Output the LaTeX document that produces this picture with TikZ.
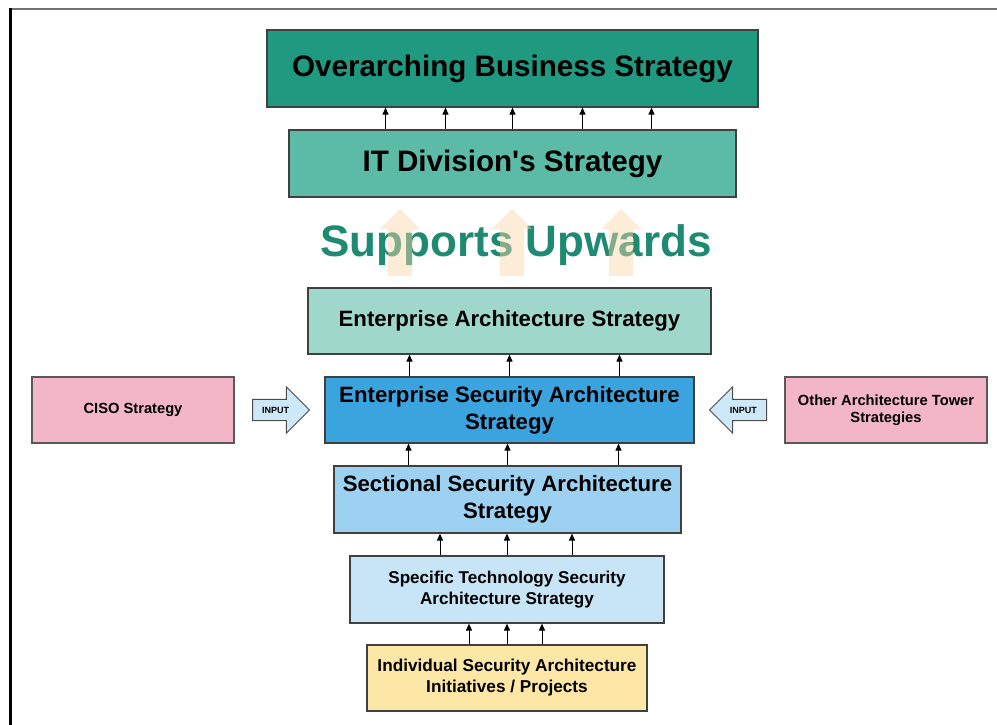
\documentclass[tikz,border=0pt]{standalone}
\usepackage{fontspec}
\setmainfont{Liberation Sans}
\usetikzlibrary{arrows.meta,shapes.arrows}

\definecolor{bizgreen}{HTML}{1F9A80}
\definecolor{itgreen}{HTML}{5CBBA6}
\definecolor{upgreen}{HTML}{1E8A72}
\definecolor{eagreen}{HTML}{9FD8CA}
\definecolor{esablue}{HTML}{3BA4DF}
\definecolor{secblue}{HTML}{9CD1F1}
\definecolor{techblue}{HTML}{C7E5F7}
\definecolor{projyellow}{HTML}{FDE7A6}
\definecolor{towerpink}{HTML}{F2B6C8}
\definecolor{inputblue}{HTML}{CDE8F8}
\definecolor{peach}{HTML}{FBD7A8}

\tikzset{
  strat/.style={draw=black!75, line width=1.2pt, inner sep=0pt, align=center},
  uparrow/.style={-{Triangle[length=7pt,width=6pt]}, line width=1pt},
  inputarrow/.style={single arrow, draw=black!70, line width=1pt, fill=inputblue,
    minimum height=57pt, inner xsep=4pt, inner ysep=7pt,
    single arrow head extend=12.5pt, font=\bfseries\fontsize{9}{10}\selectfont},
  fadearrow/.style={single arrow, rotate=90, fill=peach, fill opacity=0.45,
    minimum height=67pt, inner sep=12pt, single arrow head extend=8pt}
}

\begin{document}
\begin{tikzpicture}[x=1pt,y=-1pt]
  \useasboundingbox (0,0) rectangle (997,725);

  % frame
  \draw[line width=2.5pt, black!55] (10,9) -- (997,9);
  \draw[line width=3pt] (10,8) -- (10,725);

  \node[strat, fill=bizgreen, minimum width=491pt, minimum height=77pt,
    font=\bfseries\fontsize{29.6}{34}\selectfont] (business) at (512.5,68.5)
    {Overarching Business Strategy};
  \node[strat, fill=itgreen, minimum width=447pt, minimum height=67pt,
    font=\bfseries\fontsize{29.6}{34}\selectfont] (itdiv) at (512.5,163.5)
    {IT Division\textquotesingle s Strategy};

  \node[font=\bfseries\fontsize{44}{50}\selectfont, text=upgreen] (supports) at (516,245)
    {Supports Upwards};
  \node[fadearrow, anchor=tail] (fadeleft) at (400,276) {};
  \node[fadearrow, anchor=tail] (fademid) at (512,276) {};
  \node[fadearrow, anchor=tail] (faderight) at (621,276) {};

  \node[strat, fill=eagreen, minimum width=403pt, minimum height=66pt,
    font=\bfseries\fontsize{22.2}{27}\selectfont] (entarch) at (509.5,321)
    {Enterprise Architecture Strategy};
  \node[strat, fill=esablue, minimum width=369pt, minimum height=66pt,
    font=\bfseries\fontsize{22.2}{27}\selectfont] (entsec) at (509.5,410)
    {Enterprise Security Architecture\\Strategy};
  \node[strat, fill=secblue, minimum width=347pt, minimum height=67pt,
    font=\bfseries\fontsize{22.2}{27}\selectfont] (sectional) at (507.5,499.5)
    {Sectional Security Architecture\\Strategy};
  \node[strat, fill=techblue, minimum width=314pt, minimum height=67pt,
    font=\bfseries\fontsize{17.1}{21}\selectfont] (techsec) at (507,589.5)
    {Specific Technology Security\\Architecture Strategy};
  \node[strat, fill=projyellow, minimum width=280pt, minimum height=66pt,
    font=\bfseries\fontsize{17.2}{21}\selectfont] (projects) at (507,678)
    {Individual Security Architecture\\Initiatives / Projects};

  \node[strat, draw=black!65, fill=towerpink, minimum width=202pt, minimum height=66pt,
    font=\bfseries\fontsize{14.7}{17.5}\selectfont] (ciso) at (133,410)
    {CISO Strategy};
  \node[strat, draw=black!65, fill=towerpink, minimum width=202pt, minimum height=66pt,
    font=\bfseries\fontsize{14.7}{17.5}\selectfont] (towers) at (886,410)
    {Other Architecture Tower\\Strategies};

  \node[inputarrow, anchor=tail] (cisoinput) at (252,410) {INPUT};
  \node[inputarrow, shape border rotate=180, anchor=tail] (towerinput) at (767,410) {INPUT};

  % support arrows
  \foreach \dx in {-127,-67,0,70,139}
    \draw[uparrow] ([xshift=\dx]itdiv.north) -- ([xshift=\dx]itdiv.north |- business.south);
  \foreach \dx in {-100,0,110}
    \draw[uparrow] ([xshift=\dx]entsec.north) -- ([xshift=\dx]entsec.north |- entarch.south);
  \foreach \dx in {-99,0,111}
    \draw[uparrow] ([xshift=\dx]sectional.north) -- ([xshift=\dx]sectional.north |- entsec.south);
  \foreach \dx in {-67,0,65}
    \draw[uparrow] ([xshift=\dx]techsec.north) -- ([xshift=\dx]techsec.north |- sectional.south);
  \foreach \dx in {-38,0,35}
    \draw[uparrow] ([xshift=\dx]projects.north) -- ([xshift=\dx]projects.north |- techsec.south);

\end{tikzpicture}
\end{document}
